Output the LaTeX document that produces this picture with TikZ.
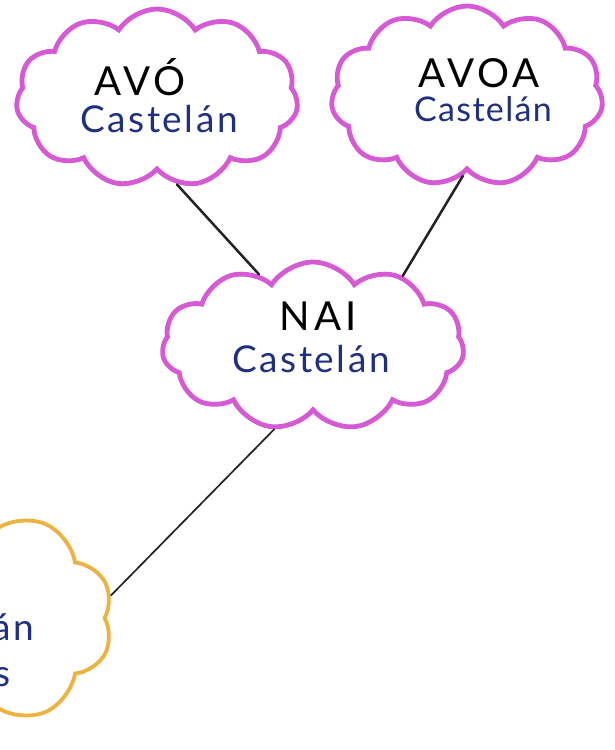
\documentclass[tikz,border=0pt]{standalone}
\usepackage{fontspec}
\setmainfont{Lato}
\usetikzlibrary{shapes.symbols}
\definecolor{mag}{RGB}{214,90,212}
\definecolor{org}{RGB}{236,178,66}
\definecolor{ink}{RGB}{32,48,128}
\definecolor{pencil}{RGB}{35,35,35}
\tikzset{
  cloudbox/.style={cloud, cloud puffs=11, cloud puff arc=115, draw=mag, line width=4.8pt,
    inner sep=0pt, cloud ignores aspect},
  orcloud/.style={cloudbox, draw=org, line width=3.8pt, cloud puffs=10},
  nametext/.style={anchor=base, text=black, inner sep=0pt, text depth=0pt,
    font=\fontsize{40}{44}\selectfont\addfontfeature{LetterSpace=10}},
  surnametext/.style={anchor=base, text=ink, inner sep=0pt,
    font=\fontsize{37}{40}\selectfont\addfontfeature{LetterSpace=7}},
  link/.style={draw=pencil, line width=2.5pt, line cap=round},
  thinlink/.style={draw=pencil, line width=1.7pt, line cap=round},
}
\begin{document}
\begin{tikzpicture}[x=1pt,y=-1pt]
\fill[white] (0,0) rectangle (615,750);
\useasboundingbox (0,0) rectangle (615,750);
\begin{scope}
\clip (0,0) rectangle (615,750);
% clouds
\node[cloudbox, minimum width=282pt, minimum height=178pt] (avo) at (157,98) {};
\node[cloudbox, minimum width=272pt, minimum height=180pt] (avoa) at (467,96) {};
\node[cloudbox, minimum width=302pt, minimum height=168pt] (nai) at (313,346) {};
\node[orcloud, minimum width=326pt, minimum height=232pt] (fillo) at (-50,618) {};
% texts
\node[nametext] (avoname) at (140,95) {AVÓ};
\node[surnametext] (avosur) at (159,132) {Castelán};
\node[nametext] (avoaname) at (479,87) {AVOA};
\node[surnametext, font=\fontsize{34}{38}\selectfont\addfontfeature{LetterSpace=4}] (avoasur) at (483,121) {Castelán};
\node[nametext] (nainame) at (318,330) {NAI};
\node[surnametext] (naisur) at (311,372) {Castelán};
\node[surnametext, anchor=base east] (fillosur) at (34,640) {Castelán};
\node[surnametext, anchor=base east] (fillo2) at (11,686) {Vilas};
% connectors
\draw[link] (avo.-77) -- (nai.127);
\draw[link] (avoa.-93) -- (nai.38);
\draw[thinlink] (nai.-115) -- (fillo.8);
\end{scope}
\end{tikzpicture}
\end{document}
